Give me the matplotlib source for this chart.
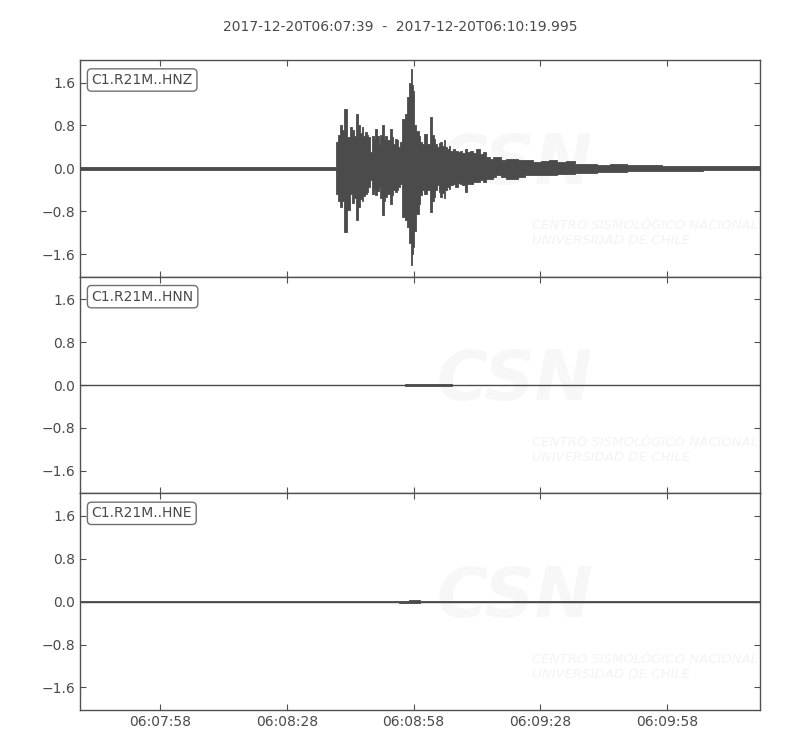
import datetime as dt
import matplotlib
matplotlib.use("Agg")
import matplotlib.pyplot as plt
import matplotlib.dates as mdates

# ---------------- data ----------------
start = dt.datetime(2017, 12, 20, 6, 7, 39)
duration = 160.995
title_text = "2017-12-20T06:07:39  -  2017-12-20T06:10:19.995"
channels = ["C1.R21M..HNZ", "C1.R21M..HNN", "C1.R21M..HNE"]
yticks = [-1.6, -0.8, 0.0, 0.8, 1.6]
ytick_labels = ["\u22121.6", "\u22120.8", "0.0", "0.8", "1.6"]

# HNZ envelope: seconds after start, upper and lower amplitudes
hnz_t = [0, 10, 20, 30, 40, 50, 60.3, 60.8, 61.3, 61.8,
         62.3, 62.9, 63.6, 64.1, 64.7, 65.2, 65.7, 66.1, 66.5, 66.9,
         67.3, 67.7, 68.1, 68.5, 68.9, 69.3, 69.7, 70.2, 70.5, 70.9,
         71.3, 71.8, 72.1, 72.4, 73.0, 73.6, 74.0, 74.4, 74.8, 75.2,
         75.6, 76.0, 76.6, 77.2, 77.8, 78.1, 78.4, 78.7, 78.9, 79.4,
         79.9, 80.4, 80.8, 81.2, 81.9, 82.6, 83.1, 83.5, 83.9, 84.3,
         84.7, 85.1, 85.5, 85.9, 86.3, 86.7, 87.1, 87.5, 87.9, 88.5,
         89.1, 89.7, 90.3, 90.8, 91.4, 92.0, 92.6, 93.4, 94.2, 95.0,
         95.8, 96.6, 97.4, 98.2, 99.0, 100.2, 101.4, 102.9, 104.5, 106.1,
         108.5, 110.0, 112.0, 114.0, 116.0, 118.4, 121.0, 123.9, 127.0, 131.8,
         135.8, 140.0, 145.0, 150.0, 155.0, 161.0]
hnz_up = [0.03, 0.03, 0.03, 0.03, 0.03, 0.03, 0.03, 0.49, 0.62, 0.80,
          0.71, 1.11, 0.58, 0.77, 0.71, 0.60, 1.02, 0.80, 0.66, 0.77,
          0.60, 0.68, 0.62, 0.58, 0.30, 0.61, 0.55, 0.74, 0.60, 0.46,
          0.62, 0.80, 0.55, 0.61, 0.52, 0.74, 0.58, 0.46, 0.55, 0.52,
          0.40, 0.49, 0.92, 1.02, 1.33, 1.60, 1.85, 1.55, 1.45, 0.80,
          0.70, 0.61, 0.50, 0.46, 0.64, 0.45, 0.95, 0.62, 0.55, 0.45,
          0.40, 0.48, 0.49, 0.42, 0.52, 0.40, 0.36, 0.42, 0.33, 0.36,
          0.33, 0.30, 0.33, 0.28, 0.36, 0.30, 0.33, 0.28, 0.36, 0.26,
          0.30, 0.22, 0.18, 0.22, 0.21, 0.15, 0.18, 0.18, 0.15, 0.15,
          0.12, 0.14, 0.15, 0.12, 0.14, 0.09, 0.08, 0.07, 0.075, 0.07,
          0.06, 0.05, 0.045, 0.045, 0.04, 0.035]
hnz_lo = [-0.03, -0.03, -0.03, -0.03, -0.03, -0.03, -0.03, -0.47, -0.60, -0.72,
          -0.60, -1.18, -0.78, -0.47, -0.65, -0.55, -0.97, -0.72, -0.58, -0.60,
          -0.52, -0.47, -0.44, -0.35, -0.22, -0.47, -0.40, -0.50, -0.42, -0.35,
          -0.55, -0.87, -0.60, -0.53, -0.48, -0.66, -0.50, -0.41, -0.45, -0.41,
          -0.35, -0.29, -0.90, -0.97, -1.09, -1.40, -1.80, -1.60, -1.46, -1.16,
          -0.85, -0.66, -0.50, -0.41, -0.47, -0.40, -0.81, -0.60, -0.53, -0.40,
          -0.32, -0.45, -0.53, -0.46, -0.56, -0.40, -0.35, -0.38, -0.32, -0.30,
          -0.35, -0.28, -0.29, -0.32, -0.44, -0.30, -0.29, -0.25, -0.25, -0.22,
          -0.25, -0.20, -0.19, -0.16, -0.13, -0.16, -0.19, -0.19, -0.16, -0.13,
          -0.13, -0.12, -0.13, -0.11, -0.10, -0.09, -0.08, -0.07, -0.06, -0.05,
          -0.05, -0.045, -0.045, -0.04, -0.04, -0.035]

# HNN envelope (nearly flat)
hnn_t = [0, 60, 76, 78, 82, 86, 90, 161]
hnn_up = [0.006, 0.006, 0.008, 0.02, 0.02, 0.015, 0.006, 0.006]
hnn_lo = [-0.006, -0.006, -0.008, -0.02, -0.02, -0.015, -0.006, -0.006]

# HNE envelope (nearly flat)
hne_t = [0, 60, 74, 77, 79, 82, 86, 161]
hne_up = [0.006, 0.006, 0.008, 0.02, 0.025, 0.012, 0.006, 0.006]
hne_lo = [-0.006, -0.006, -0.008, -0.02, -0.025, -0.012, -0.006, -0.006]

series = [(hnz_t, hnz_up, hnz_lo), (hnn_t, hnn_up, hnn_lo), (hne_t, hne_up, hne_lo)]

# ---------------- styling ----------------
plt.rcParams["font.family"] = ["DejaVu Sans"]
wave_color = "#4b4b4b"
frame_color = "#505050"
text_color = "#4a4a4a"

fig = plt.figure(figsize=(8, 7.5), dpi=100)
gs = fig.add_gridspec(3, 1, left=0.1, right=0.95, top=0.92, bottom=0.0533, hspace=0)

axes = []
for i, (ch, (t, up, lo)) in enumerate(zip(channels, series)):
    ax = fig.add_subplot(gs[i, 0], sharex=axes[0] if axes else None)
    axes.append(ax)
    times = [start + dt.timedelta(seconds=s) for s in t]
    ax.fill_between(times, lo, up, step="mid", color=wave_color,
                    linewidth=0.6, edgecolor=wave_color, zorder=3)
    ax.plot(times, [0] * len(times), color=wave_color, lw=1.0, zorder=3)
    ax.set_ylim(-2.02, 2.02)
    ax.set_yticks(yticks)
    ax.set_yticklabels(ytick_labels)
    for sp in ax.spines.values():
        sp.set_color(frame_color)
        sp.set_linewidth(1.0)
    ax.tick_params(direction="in", top=True, right=True, length=4,
                   color=frame_color, labelcolor=text_color, labelsize=10)
    ax.text(0.017, 0.94, ch, transform=ax.transAxes, ha="left", va="top",
            fontsize=10, color=text_color, zorder=5,
            bbox=dict(boxstyle="round,pad=0.3", fc="white", ec="#707070", lw=1.0))
    # faint watermark text
    ax.text(0.64, 0.52, "CSN", transform=ax.transAxes, fontsize=50,
            fontweight="bold", style="italic", color="#f7f7f7", ha="center",
            va="center", zorder=0, clip_on=True)
    ax.text(0.665, 0.20, "CENTRO SISMOLÓGICO NACIONAL\nUNIVERSIDAD DE CHILE",
            transform=ax.transAxes, fontsize=9.5, style="italic",
            color="#f3f3f3", ha="left", va="center", zorder=0, linespacing=1.2,
            clip_on=True)

axes[0].set_xlim(start, start + dt.timedelta(seconds=duration))
axes[-1].xaxis.set_major_locator(mdates.SecondLocator(bysecond=[28, 58]))
axes[-1].xaxis.set_major_formatter(mdates.DateFormatter("%H:%M:%S"))
for ax in axes[:-1]:
    plt.setp(ax.get_xticklabels(), visible=False)

fig.suptitle(title_text, y=0.973, fontsize=10, color=text_color)
fig.savefig("out.png", dpi=100)
